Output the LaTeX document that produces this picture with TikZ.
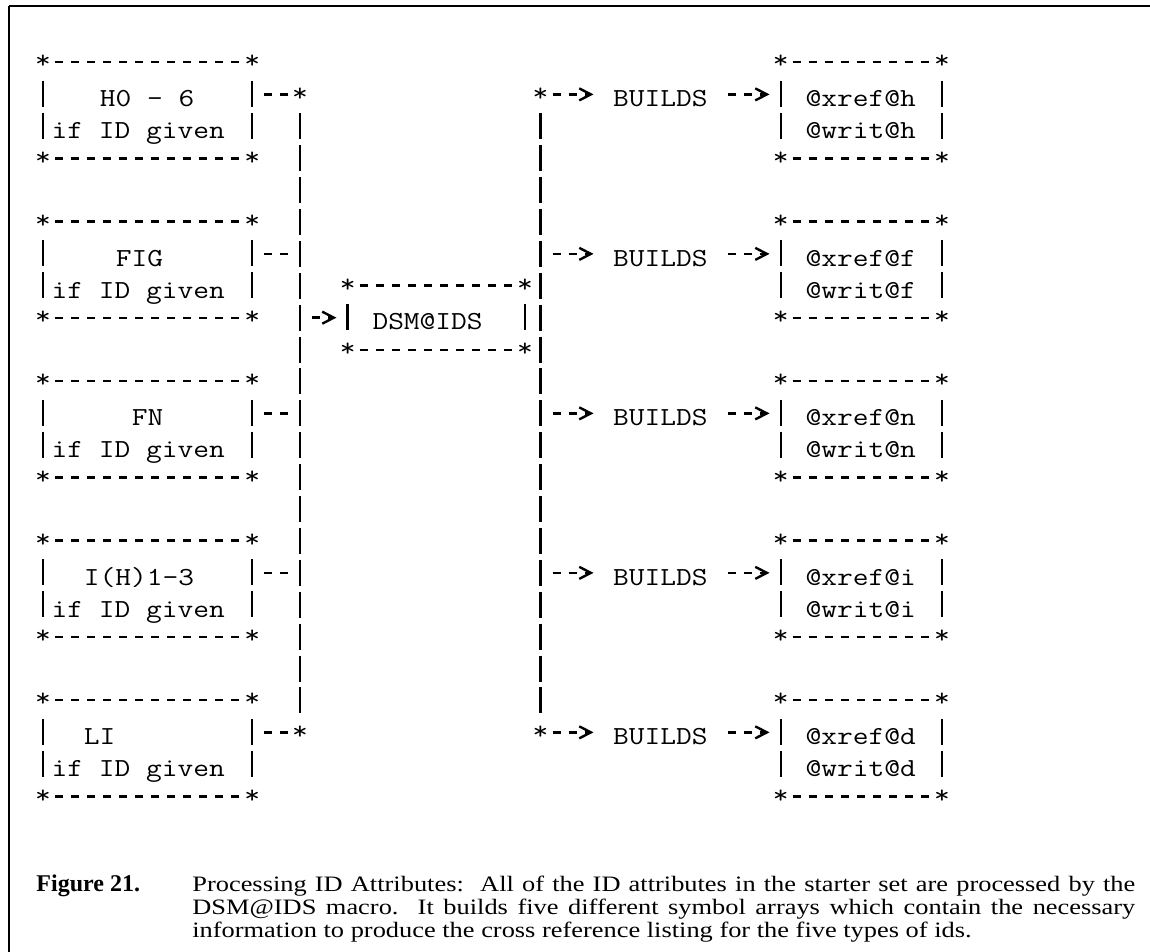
\documentclass[tikz,border=0pt]{standalone}
\usepackage{fontspec}
\setmainfont{Liberation Serif}
\newfontfamily\scanmono{lmmono12-regular.otf}[FakeStretch=1.176]
\newfontfamily\capfont{Liberation Serif}[FakeStretch=1.2]
\usetikzlibrary{arrows.meta}
\tikzset{
  ttext/.style={font=\scanmono\fontsize{13}{16}\selectfont,inner sep=0pt,
    text height=12.3pt,text depth=0pt,anchor=west},
  astk/.style={font=\scanmono\fontsize{13}{16}\selectfont,inner sep=0pt,anchor=center},
  hyph/.style={line width=1.2pt,dash pattern=on 4pt off 4.02pt,
    shorten <=6pt,shorten >=6pt},
  vbar/.style={line width=1.2pt,dash pattern=on 13pt off 2.95pt,
    shorten <=9.45pt,shorten >=9.45pt},
  tap/.style={line width=1.2pt,dash pattern=on 4pt off 4.02pt,shorten <=6pt,
    -{Straight Barb[length=5.8pt,width=6pt]}},
  tbox/.style 2 args={rectangle,inner sep=0pt,
    minimum width=#1*8.02pt,minimum height=#2*15.95pt,
    append after command={
      (\tikzlastnode.north west) edge[hyph] (\tikzlastnode.north east)
      (\tikzlastnode.south west) edge[hyph] (\tikzlastnode.south east)
      (\tikzlastnode.north west) edge[vbar] (\tikzlastnode.south west)
      (\tikzlastnode.north east) edge[vbar] (\tikzlastnode.south east)},
    label={[astk]north west:*},label={[astk]north east:*},
    label={[astk]south west:*},label={[astk]south east:*}},
  frame/.style={line width=1.2pt},
  capnum/.style={font=\bfseries\fontsize{12}{11.5}\selectfont,inner sep=0pt,anchor=base west},
  captext/.style={font=\capfont\fontsize{11}{11.5}\selectfont,inner sep=0pt,anchor=base west,
    text width=471.5pt,align=justify},
}

\begin{document}
\begin{tikzpicture}[x=8.02pt,y=-15.95pt]
  \useasboundingbox (-2.70,-1.959) rectangle (69.0,27.884);
  \coordinate (frm) at (-2.14,-1.77);
  \draw[frame] (frm) -- (69.0,-1.77);
  \draw[frame] (frm) -- (-2.14,27.884);
  % tags that carry an ID
  \node[tbox={13}{3}] (ho) at (6.5,1.5) {};
  \node[ttext] (ho1) at (3.5,1) {H0 - 6};
  \node[ttext] (ho2) at (0.5,2) {if ID given};
  \node[tbox={13}{3}] (fig) at (6.5,6.5) {};
  \node[ttext] (fig1) at (4.5,6) {FIG};
  \node[ttext] (fig2) at (0.5,7) {if ID given};
  \node[tbox={13}{3}] (fn) at (6.5,11.5) {};
  \node[ttext] (fn1) at (5.5,11) {FN};
  \node[ttext] (fn2) at (0.5,12) {if ID given};
  \node[tbox={13}{3}] (ih) at (6.5,16.5) {};
  \node[ttext] (ih1) at (2.5,16) {I(H)1-3};
  \node[ttext] (ih2) at (0.5,17) {if ID given};
  \node[tbox={13}{3}] (li) at (6.5,21.5) {};
  \node[ttext] (li1) at (2.5,21) {LI};
  \node[ttext] (li2) at (0.5,22) {if ID given};
  % the macro
  \node[tbox={11}{2}] (dsm) at (24.5,8) {};
  \node[ttext] (dsm1) at (20.5,8) {DSM@IDS};
  % bus ends
  \node[astk] (lbt) at (16,1) {*};
  \node[astk] (lbb) at (16,21) {*};
  \node[astk] (rbt) at (31,1) {*};
  \node[astk] (rbb) at (31,21) {*};
  % builds
  \node[ttext] (bh) at (35.5,1) {BUILDS};
  \node[ttext] (bf) at (35.5,6) {BUILDS};
  \node[ttext] (bn) at (35.5,11) {BUILDS};
  \node[ttext] (bi) at (35.5,16) {BUILDS};
  \node[ttext] (bd) at (35.5,21) {BUILDS};
  % symbol arrays
  \node[tbox={10}{3}] (xh) at (51,1.5) {};
  \node[ttext] (xh1) at (47.5,1) {@xref@h};
  \node[ttext] (xh2) at (47.5,2) {@writ@h};
  \node[tbox={10}{3}] (xf) at (51,6.5) {};
  \node[ttext] (xf1) at (47.5,6) {@xref@f};
  \node[ttext] (xf2) at (47.5,7) {@writ@f};
  \node[tbox={10}{3}] (xn) at (51,11.5) {};
  \node[ttext] (xn1) at (47.5,11) {@xref@n};
  \node[ttext] (xn2) at (47.5,12) {@writ@n};
  \node[tbox={10}{3}] (xi) at (51,16.5) {};
  \node[ttext] (xi1) at (47.5,16) {@xref@i};
  \node[ttext] (xi2) at (47.5,17) {@writ@i};
  \node[tbox={10}{3}] (xd) at (51,21.5) {};
  \node[ttext] (xd1) at (47.5,21) {@xref@d};
  \node[ttext] (xd2) at (47.5,22) {@writ@d};
  % left bus
  \draw[hyph] (ho.east |- ho1) -- (lbt.center);
  \draw[hyph] (fig.east |- fig1) -- (fig1 -| lbt);
  \draw[hyph] (fn.east |- fn1) -- (fn1 -| lbt);
  \draw[hyph] (ih.east |- ih1) -- (ih1 -| lbt);
  \draw[hyph] (li.east |- li1) -- (lbb.center);
  \draw[vbar] (lbt.center) -- (lbb.center);
  \draw[tap,shorten >=5.6pt] (dsm.west -| lbt) -- (dsm.west);
  % right bus
  \draw[vbar] (rbt.center) -- (rbb.center);
  \draw[tap,shorten >=9.6pt] (rbt.center) -- (bh.west);
  \draw[tap,shorten >=9.6pt] (bf.west -| rbt) -- (bf.west);
  \draw[tap,shorten >=9.6pt] (bn.west -| rbt) -- (bn.west);
  \draw[tap,shorten >=9.6pt] (bi.west -| rbt) -- (bi.west);
  \draw[tap,shorten >=9.6pt] (rbb.center) -- (bd.west);
  \draw[tap,shorten <=10pt,shorten >=5.6pt] (bh.east) -- (bh.east -| xh.west);
  \draw[tap,shorten <=10pt,shorten >=5.6pt] (bf.east) -- (bf.east -| xf.west);
  \draw[tap,shorten <=10pt,shorten >=5.6pt] (bn.east) -- (bn.east -| xn.west);
  \draw[tap,shorten <=10pt,shorten >=5.6pt] (bi.east) -- (bi.east -| xi.west);
  \draw[tap,shorten <=10pt,shorten >=5.6pt] (bd.east) -- (bd.east -| xd.west);
  % caption
  \node[capnum] (fignum) at (-0.45,26.0) {Figure 21.};
  \node[captext] (figcap) at (9.27,26.0) {Processing ID Attributes:\ \ All of the ID attributes in the starter set are processed by the\linebreak DSM@IDS macro.\ \ It builds five different symbol arrays which contain the necessary\linebreak information to produce the cross reference listing for the five types of ids.};
\end{tikzpicture}
\end{document}
